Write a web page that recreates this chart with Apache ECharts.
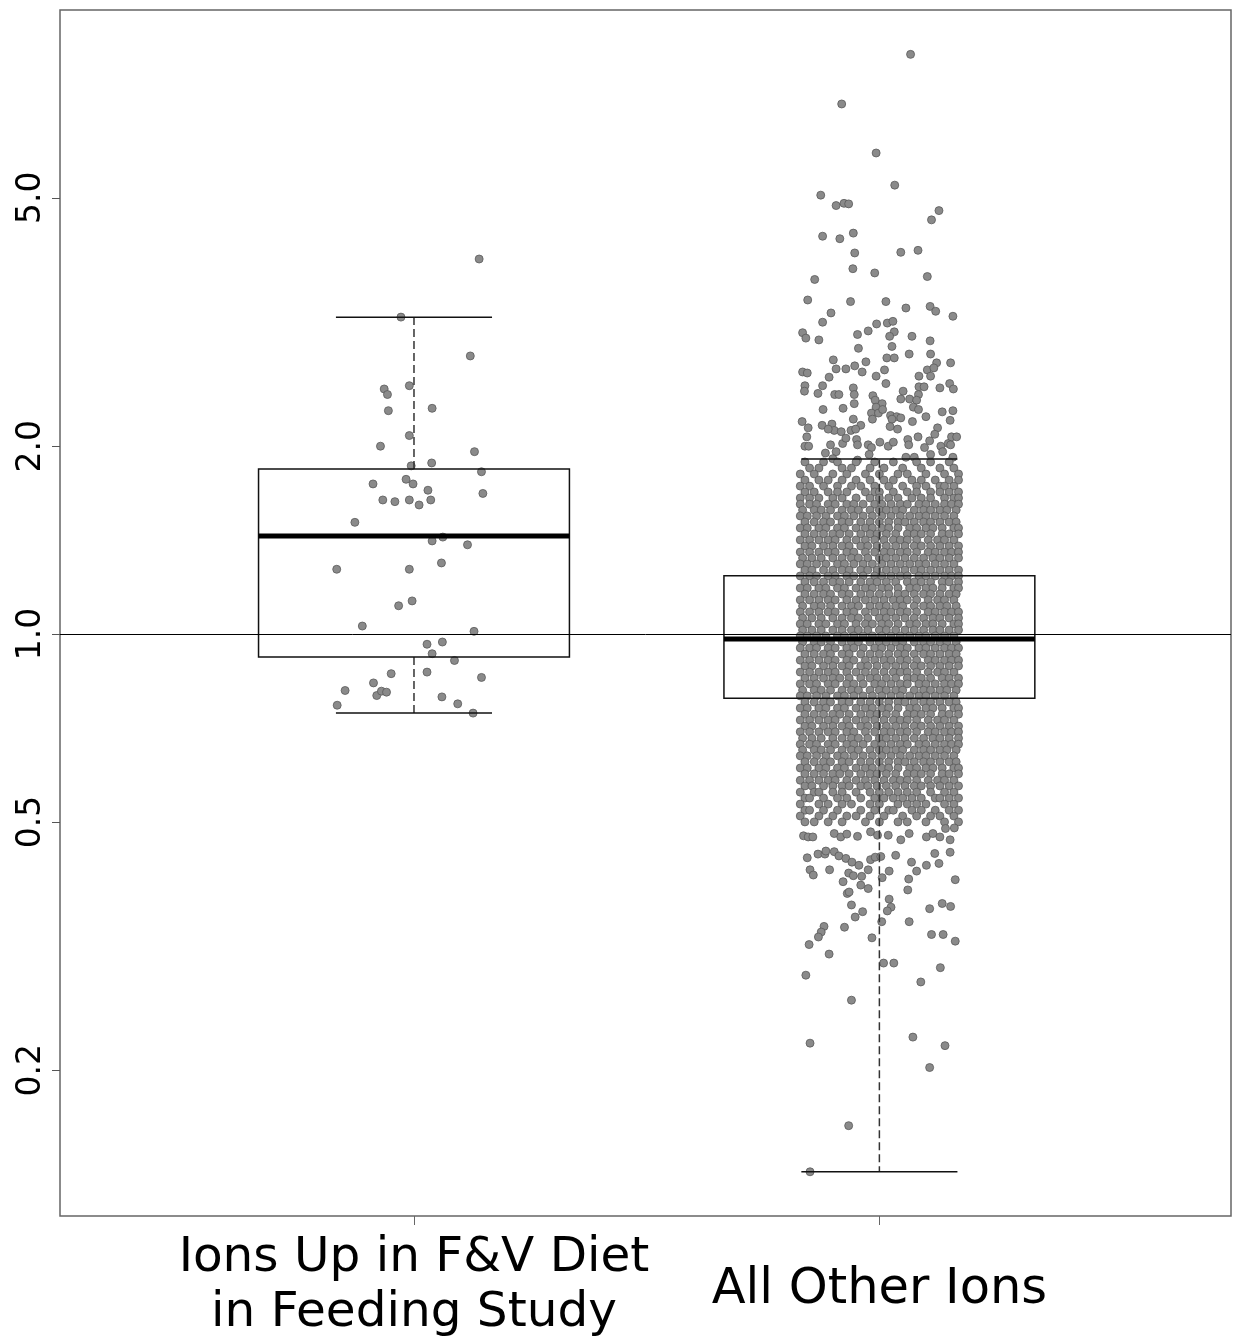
<!DOCTYPE html>
<html><head><meta charset="utf-8">
<script src="https://cdn.jsdelivr.net/npm/echarts@6/dist/echarts.min.js"></script>
<style>html,body{margin:0;padding:0;background:#fff}#c{width:1238px;height:1336px}</style>
</head><body><div id="c"></div>
<script>
// ---------- data ----------
const categories = ['Ions Up in F&V Diet\nin Feeding Study', 'All Other Ions'];
const yTicks = [0.2, 0.5, 1.0, 2.0, 5.0];
// whisker low, Q1, median, Q3, whisker high
const boxGroup1 = [0.747, 0.919, 1.436, 1.838, 3.218];
const boxGroup2 = [0.1375, 0.789, 0.982, 1.240, 1.908];

// jittered points: [jitter in hundredths of a category unit, value]
const pointsGroup1 = [
 [14.0,3.99],[-2.8,3.22],[12.1,2.79],[-6.4,2.47],[-5.7,2.42],[-1.0,2.50],[-5.5,2.28],[3.9,2.30],[-1.0,2.08],[-7.2,2.00],
 [13.0,1.96],[3.8,1.88],[-0.6,1.86],[14.5,1.82],[-8.8,1.74],[-1.7,1.77],[-0.2,1.74],[3.0,1.70],[14.8,1.68],[-6.7,1.64],
 [-4.1,1.63],[-1.0,1.64],[1.1,1.61],[3.6,1.64],[-12.7,1.51],[3.9,1.41],[6.2,1.43],[11.5,1.39],[-16.6,1.27],[-1.0,1.27],
 [5.9,1.30],[-3.3,1.11],[-0.4,1.13],[-11.1,1.03],[12.9,1.01],[2.8,0.963],[6.1,0.971],[3.9,0.930],[8.7,0.907],[-4.9,0.864],
 [2.8,0.869],[14.5,0.852],[-8.7,0.835],[-14.8,0.812],[-8.0,0.797],[-7.0,0.810],[-5.9,0.807],[6.0,0.793],[9.4,0.773],[-16.5,0.769],
 [12.7,0.747]
];
const pointsGroup2High = [
 [6.7,8.49],[-8.1,7.07],[-0.7,5.90],[3.3,5.24],[-12.6,5.05],[-9.3,4.86],[-7.6,4.90],[-6.6,4.89],[12.8,4.77],[11.2,4.61],
 [-12.2,4.34],[-8.5,4.30],[-5.6,4.39],[-5.3,4.08],[4.6,4.09],[8.3,4.12],[-5.7,3.85],[-1.0,3.79],[10.3,3.74],[-13.9,3.70],
 [-15.4,3.43],[-6.2,3.41],[1.4,3.41],[5.7,3.33],[10.9,3.35],[12.1,3.29],[15.8,3.23],[-10.4,3.27],[-12.2,3.16],[-4.7,3.02],
 [-2.4,3.06],[-0.6,3.14],[1.7,3.15],[2.9,3.17],[3.2,3.05],[2.2,3.00],[7.0,3.00],[10.9,2.95],[-16.5,3.04],[-15.8,2.98],[-13.0,2.96],
 [-4.5,2.87],[2.7,2.89],[6.4,2.81],[11.0,2.81],[-9.9,2.75],[-9.3,2.66],[-7.2,2.66],[-5.3,2.69],[-2.9,2.73],[-3.7,2.63],
 [1.6,2.77],[3.2,2.77],[12.3,2.72],[10.3,2.65],[11.7,2.67],[15.3,2.72],[-16.5,2.63],[-15.5,2.62],[-10.8,2.58],[-0.7,2.59],
 [1.1,2.65],[8.5,2.59],[11.0,2.59],
 [-16.0,2.50],[-16.1,2.45],[-12.2,2.50],[-13.2,2.43],[-9.6,2.42],[-8.7,2.42],[-5.6,2.48],[-5.4,2.42],[1.4,2.52],[5.1,2.45],
 [8.5,2.49],[9.6,2.49],[8.4,2.42],[13.0,2.48],[15.1,2.52],[15.9,2.47],[-1.4,2.41],[-0.9,2.37],[4.6,2.38],[6.5,2.38],
 [8.0,2.37],[0.6,2.34],[-0.7,2.31],[-5.4,2.34],[-7.8,2.30],[-12.1,2.29],[7.3,2.31],[8.4,2.29],[13.5,2.27],[15.8,2.28],
 [-1.7,2.26],[-0.2,2.26],[0.7,2.29],[2.4,2.24],[3.7,2.23],[4.6,2.22],[2.7,2.21],[10.0,2.23],[-1.5,2.21],[-5.6,2.21],
 [-4.0,2.16],[-12.3,2.16],[-10.2,2.17],[-16.6,2.19],[-15.3,2.14],[-9.7,2.12],[-8.2,2.11],[-6.1,2.12],[-5.1,2.13],[-11.0,2.13],
 [7.1,2.19],[3.9,2.13],[2.3,2.15],[15.2,2.20],[12.5,2.14],
 [-15.6,2.07],[-16.0,2.00],[-15.2,2.00],[-10.5,2.01],[-7.9,2.02],[-7.2,2.06],[-4.9,2.05],[-4.7,2.01],[-2.4,2.01],[-1.7,1.99],
 [0.1,2.03],[1.9,2.00],[3.0,2.03],[6.1,2.05],[6.3,2.01],[8.3,2.07],[11.9,2.09],[10.8,2.04],[9.7,1.99],[13.2,2.00],
 [14.8,2.02],[15.5,2.07],[16.6,2.07],[15.3,2.01],[-11.6,1.95],[-9.3,1.96],[-2.2,1.94],[-4.7,1.90],[-10.0,1.91],[5.7,1.92],
 [7.5,1.92],[11.0,1.94],[13.6,1.96],[15.8,1.92]
];
// dense core of group 2: [value, jitters of the points at that value]
const rowsGroup2Core = [
 [1.887,[-16,-12,-9,-5,-1,3,8,11,15]],
 [1.845,[-15,-13,-8,-6,-2,1,5,9,13,16]],
 [1.805,[-17,-14,-10,-7,-3,0,4,6,10,14,17]],
 [1.765,[-16,-13,-11,-8,-5,-2,1,3,7,9,12,15,17]],
 [1.726,[-17,-15,-12,-9,-6,-4,-1,2,5,8,10,13,14,16]],
 [1.689,[-16,-14,-11,-9,-7,-3,-1,0,3,6,8,11,13,15,17]],
 [1.652,[-17,-15,-13,-10,-8,-5,-2,0,2,4,7,9,11,14,16,17]],
 [1.615,[-17,-15,-13.5,-11,-9.5,-7,-5.5,-3.5,-1,0.5,2.5,4.5,6,8.5,10,12,14,15.5,17]],
 [1.580,[-16.5,-14,-12.5,-10.5,-8,-6,-4.5,-2,0,1.5,3.5,5,7.5,9.5,11,13,14.5,16.5]],
 [1.546,[-17,-15.5,-13.5,-11.5,-9,-7.5,-5.5,-3.5,-1.5,0.5,2.5,4.5,6.5,8.5,10,12,14,16]],
 [1.512,[-16,-14,-12,-10.5,-8,-6.5,-4,-2,0,2,4,5.5,7.5,9.5,11,13,15,16.5]],
 [1.479,[-17,-15.5,-13,-11.5,-9,-7.5,-5,-3,-1.5,0.5,2,4,6.5,8,10,11.5,13.5,16,17]],
 [1.447,[-16,-14,-12,-10,-8.5,-6.5,-4,-2,-0.5,1.5,3.5,6,7.5,9,11,13.5,15,17]],
 [1.415,[-17,-15,-13,-11,-9.5,-7,-5,-3,-1,1,3,4.5,6,8,10.5,12.5,14,16]],
 [1.384,[-16,-14.5,-12,-10,-8,-6.5,-4,-2.5,-0.5,1.5,3.5,5.5,7.5,9,11,13,15,17]],
 [1.353,[-17,-15,-13,-11,-9.5,-7,-5.5,-3,-1,1,2.5,4.5,6,8,10.5,12,14,15.5,17]],
 [1.324,[-16.5,-14.5,-12.5,-10,-8,-6,-4.5,-2.5,0,1.5,3.5,5.5,7.5,9.5,11.5,13,15,17]],
 [1.295,[-17,-15.5,-13.5,-11.5,-9,-7.5,-5.5,-3.5,-1.5,0.5,2.5,4.5,6.5,8.5,10,12,14,16]],
 [1.266,[-16,-14.5,-12,-10,-8,-6.5,-4,-2.5,-0.5,1.5,3.5,5.5,7.5,9,11,13,15,17]],
 [1.239,[-17,-15,-13.5,-11,-9.5,-7,-5.5,-3.5,-1,0.5,2.5,4.5,6,8.5,10,12,14,15.5,17]],
 [1.212,[-16,-14,-12,-10,-8.5,-6.5,-4,-2,-0.5,1.5,3.5,6,7.5,9,11,13.5,15,17]],
 [1.185,[-17,-15.5,-13,-11.5,-9,-7.5,-5,-3,-1.5,0.5,2,4,6.5,8,10,11.5,13.5,16,17]],
 [1.159,[-16,-14,-12,-10.5,-8,-6.5,-4,-2,0,2,4,5.5,7.5,9.5,11,13,15,16.5]],
 [1.134,[-17,-15,-13,-11,-9.5,-7,-5,-3,-1,1,3,4.5,6,8,10.5,12.5,14,16]],
 [1.109,[-16.5,-14,-12.5,-10.5,-8,-6,-4.5,-2,0,1.5,3.5,5,7.5,9.5,11,13,14.5,16.5]],
 [1.085,[-17,-15,-13,-11,-9.5,-7,-5.5,-3,-1,1,2.5,4.5,6,8,10.5,12,14,15.5,17]],
 [1.061,[-16.5,-14.5,-12.5,-10,-8,-6,-4.5,-2.5,0,1.5,3.5,5.5,7.5,9.5,11.5,13,15,17]],
 [1.038,[-17,-15.5,-13,-11.5,-9,-7.5,-5,-3,-1.5,0.5,2,4,6.5,8,10,11.5,13.5,16,17]],
 [1.015,[-16.5,-14.5,-12.5,-10,-8,-6,-4.5,-2.5,0,1.5,3.5,5.5,7.5,9.5,11.5,13,15,17]],
 [0.993,[-17,-15.5,-13.5,-11.5,-9,-7.5,-5.5,-3.5,-1.5,0.5,2.5,4.5,6.5,8.5,10,12,14,16]],
 [0.971,[-16.5,-14,-12.5,-10.5,-8,-6,-4.5,-2,0,1.5,3.5,5,7.5,9.5,11,13,14.5,16.5]],
 [0.950,[-17,-15,-13.5,-11,-9.5,-7,-5.5,-3.5,-1,0.5,2.5,4.5,6,8.5,10,12,14,15.5,17]],
 [0.929,[-16,-14,-12,-10.5,-8,-6.5,-4,-2,0,2,4,5.5,7.5,9.5,11,13,15,16.5]],
 [0.908,[-17,-15,-13,-11,-9.5,-7,-5.5,-3,-1,1,2.5,4.5,6,8,10.5,12,14,15.5,17]],
 [0.889,[-16,-14.5,-12,-10,-8,-6.5,-4,-2.5,-0.5,1.5,3.5,5.5,7.5,9,11,13,15,17]],
 [0.869,[-17,-15,-13,-11,-9.5,-7,-5,-3,-1,1,3,4.5,6,8,10.5,12.5,14,16]],
 [0.850,[-16,-14,-12,-10,-8.5,-6.5,-4,-2,-0.5,1.5,3.5,6,7.5,9,11,13.5,15,17]],
 [0.832,[-17,-15,-13.5,-11,-9.5,-7,-5.5,-3.5,-1,0.5,2.5,4.5,6,8.5,10,12,14,15.5,17]],
 [0.813,[-16.5,-14,-12.5,-10.5,-8,-6,-4.5,-2,0,1.5,3.5,5,7.5,9.5,11,13,14.5,16.5]],
 [0.796,[-17,-15.5,-13.5,-11.5,-9,-7.5,-5.5,-3.5,-1.5,0.5,2.5,4.5,6.5,8.5,10,12,14,16]],
 [0.778,[-16,-14,-12,-10.5,-8,-6.5,-4,-2,0,2,4,5.5,7.5,9.5,11,13,15,16.5]],
 [0.761,[-17,-15.5,-13,-11.5,-9,-7.5,-5,-3,-1.5,0.5,2,4,6.5,8,10,11.5,13.5,16,17]],
 [0.744,[-16,-14,-12,-10,-8.5,-6.5,-4,-2,-0.5,1.5,3.5,6,7.5,9,11,13.5,15,17]],
 [0.728,[-17,-15,-13,-11,-9.5,-7,-5,-3,-1,1,3,4.5,6,8,10.5,12.5,14,16]],
 [0.712,[-16,-14.5,-12,-10,-8,-6.5,-4,-2.5,-0.5,1.5,3.5,5.5,7.5,9,11,13,15,17]],
 [0.697,[-17,-15,-13,-11,-9.5,-7,-5.5,-3,-1,1,2.5,4.5,6,8,10.5,12,14,15.5,17]],
 [0.681,[-16.5,-14.5,-12.5,-10,-8,-6,-4.5,-2.5,0,1.5,3.5,5.5,7.5,9.5,11.5,13,15,17]],
 [0.666,[-17,-15,-13.5,-11,-9.5,-7,-5.5,-3.5,-1,0.5,2.5,4.5,6,8.5,10,12,14,15.5,17]],
 [0.652,[-16.5,-14,-12.5,-10.5,-8,-6,-4.5,-2,0,1.5,3.5,5,7.5,9.5,11,13,14.5,16.5]],
 [0.638,[-17,-15.5,-13.5,-11.5,-9,-7.5,-5.5,-3.5,-1.5,0.5,2.5,4.5,6.5,8.5,10,12,14,16]],
 [0.624,[-16,-14,-12,-10.5,-8,-6.5,-4,-2,0,2,4,5.5,7.5,9.5,11,13,15,16.5]],
 [0.610,[-17,-15.5,-13,-11.5,-9,-7.5,-5,-3,-1.5,0.5,2,4,6.5,8,10,11.5,13.5,16,17]],
 [0.597,[-16,-14,-12,-10,-8.5,-6.5,-4,-2,-0.5,1.5,3.5,6,7.5,9,11,13.5,15,17]],
 [0.583,[-17,-15,-13,-11,-9.5,-7,-5,-3,-1,1,3,4.5,6,8,10.5,12.5,14,16]],
 [0.571,[-16,-14.5,-12,-10,-8,-6.5,-4,-2.5,-0.5,1.5,3.5,5.5,7.5,9,11,13,15,17]],
 [0.558,[-17,-14,-13,-10,-8,-5,-2,0,2,4,6,8,11,14,16]],
 [0.546,[-16,-15,-12,-9,-7,-4,-1,1,3,5,7,9,12,13,15,17]],
 [0.534,[-17,-13,-11,-8,-6,-2,0,4,6,8,10,14,16]],
 [0.522,[-16,-15,-12,-9,-4,-1,2,3,7,9,12,15,17]],
 [0.511,[-17,-13,-10,-7,-5,-2,1,5,8,11,13,16]],
 [0.500,[-16,-14,-11,-8,-3,0,4,6,10,14,17]]
];
const pointsGroup2Low = [
 [-16.3,0.475],[-15.3,0.473],[-14.3,0.473],[-9.7,0.479],[-8.3,0.473],[-7.0,0.478],[-4.7,0.474],[-1.9,0.482],[-0.4,0.476],[1.9,0.476],
 [4.6,0.468],[6.4,0.479],[10.1,0.473],[11.5,0.479],[13.0,0.473],[14.2,0.488],[16.1,0.489],[15.2,0.468],
 [-15.5,0.438],[-13.2,0.444],[-11.7,0.444],[-11.5,0.449],[-9.7,0.448],[-8.7,0.441],[-7.2,0.437],[-5.9,0.431],[-4.4,0.426],[-1.9,0.435],
 [-0.9,0.439],[0.3,0.440],[3.5,0.442],[6.9,0.431],[8.0,0.417],[10.1,0.426],[12.8,0.429],[11.9,0.445],[15.2,0.447],
 [-14.9,0.419],[-14.2,0.411],[-10.7,0.419],[-6.6,0.414],[-5.6,0.410],[-3.8,0.409],[-2.4,0.419],[0.6,0.407],[2.1,0.417],[6.3,0.405],
 [6.1,0.389],[16.3,0.404],[-7.8,0.401],[-6.9,0.384],[-6.5,0.386],[-2.4,0.391],[-4.0,0.396],
 [-6.0,0.368],[-3.6,0.359],[-5.2,0.352],[-7.5,0.339],[-11.9,0.340],[-12.5,0.333],[-13.1,0.327],[-15.1,0.318],[-10.8,0.307],[-1.6,0.326],
 [0.5,0.346],[2.1,0.376],[2.5,0.365],[1.7,0.360],[6.4,0.346],[10.8,0.363],[13.5,0.370],[15.3,0.366],[11.2,0.330],[13.7,0.330],[16.3,0.322],
 [0.9,0.297],[3.1,0.297],[13.1,0.292],[-15.8,0.284],[8.9,0.277],[-6.0,0.259],[7.2,0.226],[-14.9,0.221],[14.1,0.219],[10.8,0.202],
 [-6.6,0.163],[-14.9,0.1375]
];

// ---------- build series data ----------
const FONT = 'DejaVu Sans';
const scatter = [];
pointsGroup1.forEach(p => scatter.push([1 + p[0] / 100, p[1]]));
pointsGroup2High.forEach(p => scatter.push([2 + p[0] / 100, p[1]]));
rowsGroup2Core.forEach(r => r[1].forEach(j => scatter.push([2 + j / 100, r[0]])));
pointsGroup2Low.forEach(p => scatter.push([2 + p[0] / 100, p[1]]));

const boxData = [[1].concat(boxGroup1), [2].concat(boxGroup2)];

const chart = echarts.init(document.getElementById('c'), null, {renderer: 'canvas'});
chart.setOption({
  animation: false,
  backgroundColor: '#fff',
  grid: {left: 60, right: 7, top: 10, bottom: 120, show: true, borderColor: '#666', borderWidth: 1.5,
         backgroundColor: 'transparent', containLabel: false, outerBoundsMode: 'none'},
  xAxis: {
    type: 'value', min: 0.2394, max: 2.7555,
    axisLine: {show: false}, splitLine: {show: false},
    axisTick: {show: true, customValues: [1, 2], length: 9, lineStyle: {color: '#666', width: 1}},
    axisLabel: {
      customValues: [1, 2], margin: 15, color: '#000',
      formatter: v => {
        const lines = categories[Math.round(v) - 1].split('\n');
        const key = lines.length > 1 ? 'a' : 'b';
        return lines.map(s => '{' + key + '|' + s + '}').join('\n');
      },
      rich: {
        a: {fontFamily: FONT, fontSize: 48.5, lineHeight: 55, color: '#000'},
        b: {fontFamily: FONT, fontSize: 49.5, lineHeight: 118, color: '#000'}
      }
    }
  },
  yAxis: {
    type: 'log', logBase: 10, min: 0.1168, max: 10,
    axisLine: {show: false}, splitLine: {show: false}, minorTick: {show: false},
    axisTick: {show: true, customValues: yTicks, length: 8, lineStyle: {color: '#555', width: 1}},
    axisLabel: {customValues: yTicks, rotate: 90, margin: 12, fontFamily: FONT, fontSize: 33, color: '#000',
      formatter: v => Number(v).toFixed(1)}
  },
  series: [
    {
      type: 'scatter', z: 2, symbol: 'circle', symbolSize: 8, silent: true,
      itemStyle: {color: '#8a8a8a', borderColor: '#5a5a5a', borderWidth: 0.8, opacity: 1},
      data: scatter
    },
    {
      type: 'custom', z: 3, silent: true,
      encode: {x: 0, y: [1, 2, 3, 4, 5]},
      data: boxData,
      renderItem: (params, api) => {
        const x = api.value(0);
        const lo = api.value(1), q1 = api.value(2), med = api.value(3), q3 = api.value(4), hi = api.value(5);
        const bw = 0.334, cw = 0.1677;
        const c = (xx, yy) => api.coord([xx, yy]);
        const pLo = c(x, lo), pQ1 = c(x, q1), pQ3 = c(x, q3), pHi = c(x, hi);
        const bl = c(x - bw, q3), br = c(x + bw, q1);
        const ml = c(x - bw, med), mr = c(x + bw, med);
        const capL1 = c(x - cw, hi), capR1 = c(x + cw, hi);
        const capL2 = c(x - cw, lo), capR2 = c(x + cw, lo);
        const dash = {stroke: '#333', lineWidth: 1.5, lineDash: [8, 4], fill: null};
        const solid = {stroke: '#111', lineWidth: 1.5, fill: null};
        return {type: 'group', children: [
          {type: 'line', shape: {x1: pQ3[0], y1: pQ3[1], x2: pHi[0], y2: pHi[1]}, style: dash},
          {type: 'line', shape: {x1: pQ1[0], y1: pQ1[1], x2: pLo[0], y2: pLo[1]}, style: dash},
          {type: 'line', shape: {x1: capL1[0], y1: capL1[1], x2: capR1[0], y2: capR1[1]}, style: solid},
          {type: 'line', shape: {x1: capL2[0], y1: capL2[1], x2: capR2[0], y2: capR2[1]}, style: solid},
          {type: 'rect', shape: {x: bl[0], y: bl[1], width: br[0] - bl[0], height: br[1] - bl[1]}, style: solid},
          {type: 'line', shape: {x1: ml[0], y1: ml[1], x2: mr[0], y2: mr[1]}, style: {stroke: '#000', lineWidth: 5}}
        ]};
      },
      markLine: {
        silent: true, symbol: 'none', label: {show: false},
        lineStyle: {color: '#000', width: 1, type: 'solid'},
        data: [{yAxis: 1}]
      }
    }
  ]
});
</script>
</body></html>
